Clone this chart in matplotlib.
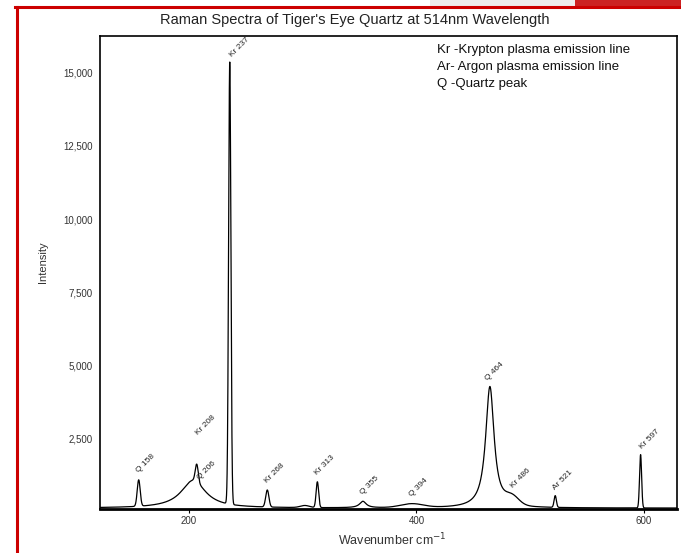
import numpy as np
import matplotlib
matplotlib.use("Agg")
import matplotlib.pyplot as plt
from matplotlib.patches import Rectangle
from matplotlib.lines import Line2D

plt.rcParams['font.family'] = ['Liberation Sans', 'DejaVu Sans']

# ---- data ----
peak_centers = [156, 204, 207, 236, 269, 302, 313, 353, 396, 464.6, 484, 522, 597]
peak_heights = [900, 950, 600, 15100, 580, 70, 880, 220, 130, 4150, 280, 400, 1820]
peak_width   = [1.3, 13, 1.3, 1.0, 1.4, 4, 1.1, 3.5, 10, 4.5, 6, 1.0, 0.9]
peak_shape   = ["g", "l", "g", "g", "g", "g", "g", "l", "g", "l", "g", "g", "g"]
baseline_level = 130

label_texts = ["Q 158", "Kr 208", "Q 206", "Kr 237", "Kr 268", "Kr 313", "Q 355",
               "Q 394", "Q 464", "Kr 486", "Ar 521", "Kr 597"]
label_x = [156, 207, 207, 236, 269, 313, 353, 396, 464.6, 484, 522, 597]

x_ticks = [200, 400, 600]
y_ticks = [2500, 5000, 7500, 10000, 12500, 15000]
y_tick_labels = ["2,500", "5,000", "7,500", "10,000", "12,500", "15,000"]

legend_lines = ["Kr -Krypton plasma emission line",
                "Ar- Argon plasma emission line",
                "Q -Quartz peak"]

# ---- build spectrum from peak list ----
wn = np.linspace(122, 629, 8000)
spec = np.full_like(wn, baseline_level, dtype=float)
for c, h, w, s in zip(peak_centers, peak_heights, peak_width, peak_shape):
    if s == "l":
        spec += h * w**2 / ((wn - c)**2 + w**2)
    else:
        spec += h * np.exp(-0.5 * ((wn - c) / w)**2)

def spec_at(x):
    return np.interp(x, wn, spec)

fig = plt.figure(figsize=(6.81, 5.53), dpi=100)
ax = fig.add_axes([100/681, 1-509/553, 577/681, 473/553])
ax.plot(wn, spec, color='black', lw=0.9)
ax.set_xlim(122, 629)
ax.set_ylim(100, 16250)

ax.set_xticks(x_ticks)
ax.set_xticklabels([str(t) for t in x_ticks], fontsize=7, color='#333333')
ax.set_yticks(y_ticks)
ax.set_yticklabels(y_tick_labels, fontsize=7, color='#333333')
ax.tick_params(axis='x', length=3, width=0.8, pad=2)
ax.tick_params(axis='y', length=0, pad=5)
for s in ax.spines.values():
    s.set_linewidth(1.2)
ax.spines['bottom'].set_linewidth(2.0)

fig.text(43/681, 1 - 262/553, "Intensity", rotation=90, fontsize=8, color='#333333',
         ha='center', va='center')
fig.text(392/681, 1 - 540/553, "Wavenumber cm$^{-1}$", fontsize=9, color='#333333',
         ha='center', va='center')

# peak labels
offsets = {0: (1, 4), 1: (2, 20), 2: (3, -12), 3: (3, 3), 4: (1, 4), 5: (1, 4),
           6: (1, 4), 7: (1, 4), 8: (-1, 3), 9: (2, 3), 10: (1, 3), 11: (2, 3)}
for i, (t, x) in enumerate(zip(label_texts, label_x)):
    dx, dy = offsets[i]
    ax.annotate(t, (x, spec_at(x)), xytext=(dx, dy), textcoords='offset points',
                rotation=45, rotation_mode='anchor', ha='left', va='bottom',
                fontsize=6, color='#222222')

for i, line in enumerate(legend_lines):
    fig.text(437/681, 1 - (50 + i*17)/553, line, fontsize=9.5, color='#111111',
             va='center', ha='left')

fig.text(355/681, 1 - 20/553, "Raman Spectra of Tiger's Eye Quartz at 514nm Wavelength",
         fontsize=10.5, ha='center', va='center', color='#222222')

# red frame
fig.add_artist(Rectangle((575/681, 1-6/553), 106/681, 6/553, transform=fig.transFigure,
                         facecolor='#cc2222', edgecolor='none'))
fig.add_artist(Rectangle((430/681, 1-6/553), 145/681, 6/553, transform=fig.transFigure,
                         facecolor='#eeeeee', edgecolor='none'))
fig.add_artist(Line2D([15/681, 1], [1-7/553, 1-7/553], transform=fig.transFigure,
                      color='#cc0000', lw=2.2))
fig.add_artist(Line2D([17/681, 17/681], [0, 1-7/553], transform=fig.transFigure,
                      color='#cc0000', lw=2.2))

fig.savefig("out.png", dpi=100)
